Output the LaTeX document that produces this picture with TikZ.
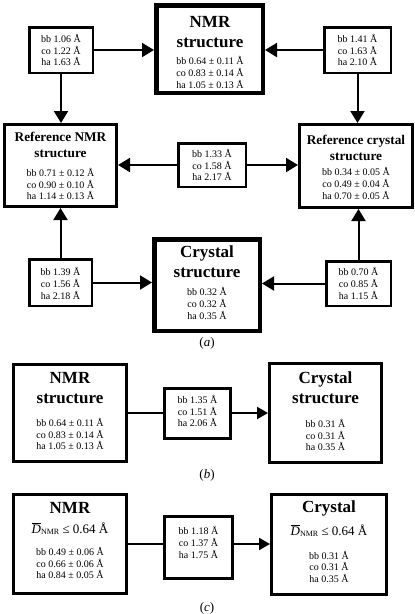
\documentclass[tikz,border=0pt]{standalone}
\usepackage{fontspec}
\setmainfont{Liberation Serif}
\usetikzlibrary{arrows.meta}
\newcommand\ttlfont{\fontsize{17}{20}\selectfont\bfseries}
\newcommand\reffont{\fontsize{13.3}{16}\selectfont\bfseries}
\newcommand\valfont{\fontsize{10}{11.7}\selectfont}
\newcommand\dfont{\fontsize{13}{15}\selectfont}
\newcommand\dbar{$\overline{\mbox{\itshape D}}$\raisebox{-0.25ex}{\fontsize{8}{8}\selectfont NMR}}
\begin{document}
\begin{tikzpicture}[x=1pt,y=-1pt,
  thickbox/.style={draw, line width=4.5pt, rectangle, inner sep=0pt},
  medbox/.style={draw, line width=3pt, rectangle, inner sep=0pt},
  smallbox/.style={draw, line width=2.5pt, rectangle, inner sep=0pt},
  ttl/.style={align=center, font=\ttlfont, inner sep=0pt},
  rttl/.style={align=center, font=\reffont, inner sep=0pt},
  vals/.style={align=center, font=\valfont, inner sep=0pt},
  dline/.style={font=\dfont, inner sep=0pt},
  arr/.style={line width=2pt, -{Triangle[length=12pt,width=14pt]}},
  arrb/.style={line width=2.2pt, -{Triangle[length=11pt,width=12pt]}},
  plain/.style={line width=2.2pt},
  captxt/.style={font=\fontsize{13}{15}\selectfont, inner sep=0pt}
]
\fill[white] (0,0) rectangle (415,614);
\useasboundingbox (0,0) rectangle (415,614);

% ---------- panel (a) ----------
\node[thickbox, minimum width=106.5pt, minimum height=87.5pt] (nmr) at (209.5,49) {};
\node[ttl] (nmrT) at (210,32) {NMR\\structure};
\node[vals] (nmrV) at (210,72.5) {bb 0.64 ± 0.11 Å\\co 0.83 ± 0.14 Å\\ha 1.05 ± 0.13 Å};

\node[smallbox, minimum width=63.5pt, minimum height=45.5pt] (tl) at (61,50) {};
\node[vals] (tlV) at (61,50) {bb 1.06 Å\\co 1.22 Å\\ha 1.63 Å};

\node[smallbox, minimum width=66.5pt, minimum height=45.5pt] (tr) at (357.5,50) {};
\node[vals] (trV) at (357.5,50) {bb 1.41 Å\\co 1.63 Å\\ha 2.10 Å};

\node[medbox, minimum width=112pt, minimum height=82pt] (refnmr) at (60.5,165.5) {};
\node[rttl] (refnmrT) at (60.5,145) {Reference NMR\\structure};
\node[vals] (refnmrV) at (60.5,184) {bb 0.71 ± 0.12 Å\\co 0.90 ± 0.10 Å\\ha 1.14 ± 0.13 Å};

\node[smallbox, minimum width=67.5pt, minimum height=43.5pt] (mid) at (212,165) {};
\node[vals] (midV) at (212,165) {bb 1.33 Å\\co 1.58 Å\\ha 2.17 Å};

\node[medbox, minimum width=113pt, minimum height=83pt] (refcry) at (356,166) {};
\node[rttl] (refcryT) at (356,147.5) {Reference crystal\\structure};
\node[vals] (refcryV) at (356,183.5) {bb 0.34 ± 0.05 Å\\co 0.49 ± 0.04 Å\\ha 0.70 ± 0.05 Å};

\node[thickbox, minimum width=105.5pt, minimum height=91.5pt] (cry) at (207,285) {};
\node[ttl] (cryT) at (207,262) {Crystal\\structure};
\node[vals] (cryV) at (207,303.5) {bb 0.32 Å\\co 0.32 Å\\ha 0.35 Å};

\node[smallbox, minimum width=62.5pt, minimum height=46.5pt] (bl) at (60.5,282.5) {};
\node[vals] (blV) at (60.5,283.5) {bb 1.39 Å\\co 1.56 Å\\ha 2.18 Å};

\node[smallbox, minimum width=64.5pt, minimum height=44.5pt] (br) at (358.5,283.5) {};
\node[vals] (brV) at (358.5,283.5) {bb 0.70 Å\\co 0.85 Å\\ha 1.15 Å};

\draw[arr] (tl.east) -- (tl.east -| nmr.west);
\draw[arr] (tl.south) -- (tl.south |- refnmr.north);
\draw[arr] (tr.west) -- (tr.west -| nmr.east);
\draw[arr] (tr.south) -- (tr.south |- refcry.north);
\draw[arr] (mid.west) -- (mid.west -| refnmr.east);
\draw[arr] (mid.east) -- (mid.east -| refcry.west);
\draw[arr] (bl.north) -- (bl.north |- refnmr.south);
\draw[arr] (bl.east) -- (bl.east -| cry.west);
\draw[arr] (br.north) -- (br.north |- refcry.south);
\draw[arr] (br.west) -- (br.west -| cry.east);

\node[captxt] (capa) at (207,343) {(\textit{a})};

% ---------- panel (b) ----------
\node[medbox, minimum width=113pt, minimum height=97pt] (bnmr) at (70,413) {};
\node[ttl] (bnmrT) at (70,388) {NMR\\structure};
\node[vals] (bnmrV) at (70,434) {bb 0.64 ± 0.11 Å\\co 0.83 ± 0.14 Å\\ha 1.05 ± 0.13 Å};

\node[medbox, minimum width=66pt, minimum height=50pt] (bmid) at (197.5,413.5) {};
\node[vals] (bmidV) at (197.5,411) {bb 1.35 Å\\co 1.51 Å\\ha 2.06 Å};

\node[medbox, minimum width=112pt, minimum height=99pt] (bcry) at (325.5,413) {};
\node[ttl] (bcryT) at (325.5,388) {Crystal\\structure};
\node[vals] (bcryV) at (325.5,435) {bb 0.31 Å\\co 0.31 Å\\ha 0.35 Å};

\draw[plain] (bnmr.east) -- (bnmr.east -| bmid.west);
\draw[arrb] (bnmr.east -| bmid.east) -- (bnmr.east -| bcry.west);

\node[captxt] (capb) at (207,475) {(\textit{b})};

% ---------- panel (c) ----------
\node[medbox, minimum width=113pt, minimum height=99pt] (cnmr) at (70,544) {};
\node[ttl] (cnmrT) at (70,508) {NMR};
\node[dline] (cnmrD) at (70,528.5) {\dbar{} ≤ 0.64 Å};
\node[vals] (cnmrV) at (70,563) {bb 0.49 ± 0.06 Å\\co 0.66 ± 0.06 Å\\ha 0.84 ± 0.05 Å};

\node[medbox, minimum width=68pt, minimum height=62pt] (cmid) at (198.5,547.5) {};
\node[vals] (cmidV) at (198.5,542.5) {bb 1.18 Å\\co 1.37 Å\\ha 1.75 Å};

\node[medbox, minimum width=115pt, minimum height=100pt] (ccry) at (329,544.5) {};
\node[ttl] (ccryT) at (329,508) {Crystal};
\node[dline] (ccryD) at (329,530.5) {\dbar{} ≤ 0.64 Å};
\node[vals] (ccryV) at (329,566.7) {bb 0.31 Å\\co 0.31 Å\\ha 0.35 Å};

\draw[plain] (cnmr.east) -- (cnmr.east -| cmid.west);
\draw[arrb] (cnmr.east -| cmid.east) -- (cnmr.east -| ccry.west);

\node[captxt] (capc) at (207,608) {(\textit{c})};
\end{tikzpicture}
\end{document}
